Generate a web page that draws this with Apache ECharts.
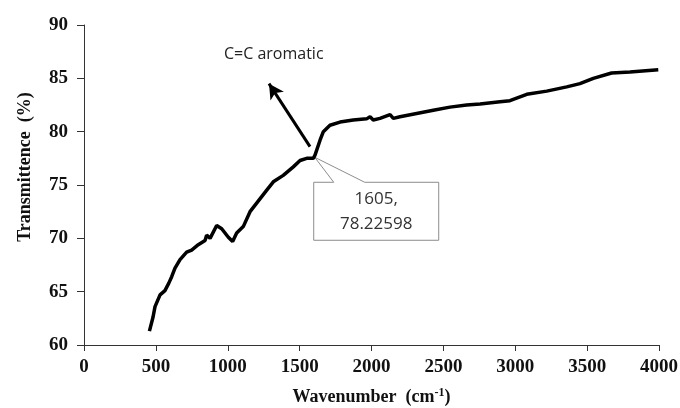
<!DOCTYPE html>
<html>
<head>
<meta charset="utf-8">
<script src="https://cdn.jsdelivr.net/npm/echarts@6/dist/echarts.min.js"></script>
<style>
html,body{margin:0;padding:0;background:#fff;}
#main{width:680px;height:408px;}
</style>
</head>
<body>
<div id="main"></div>
<script>
// FTIR spectrum
var wavenumber = [455, 480, 494, 529, 563, 590, 610, 633, 668, 714, 749, 795, 842, 853, 877, 923, 958, 1004, 1034, 1062,
    1108, 1155, 1201, 1270, 1317, 1386, 1456, 1503, 1549, 1595, 1607, 1642, 1665, 1711, 1781, 1873, 1966, 1990, 2012, 2059,
    2129, 2152, 2198, 2314, 2430, 2546, 2662, 2755, 2894, 2963, 3080, 3219, 3358, 3450, 3543, 3670, 3798, 3995];
var transmittance = [61.3, 62.6, 63.6, 64.7, 65.1, 65.8, 66.4, 67.2, 68.0, 68.7, 68.9, 69.4, 69.8, 70.3, 70.0, 71.2, 70.9, 70.1, 69.7, 70.5,
    71.1, 72.5, 73.3, 74.5, 75.3, 75.9, 76.7, 77.3, 77.5, 77.5, 77.8, 79.2, 80.0, 80.6, 80.9, 81.1, 81.2, 81.4, 81.1, 81.25,
    81.6, 81.25, 81.4, 81.7, 82.0, 82.3, 82.5, 82.6, 82.8, 82.9, 83.5, 83.8, 84.2, 84.5, 85.0, 85.5, 85.6, 85.8];
var xTicks = [0, 500, 1000, 1500, 2000, 2500, 3000, 3500, 4000];
var yTicks = [60, 65, 70, 75, 80, 85, 90];
var peakLabel = ['1605,', '78.22598'];
var peakPoint = [1605, 77.6];
var arrowFrom = [1572, 78.6];
var arrowTo = [1287, 84.5];
var arrowText = 'C=C aromatic';

var seriesData = [];
for (var i = 0; i < wavenumber.length; i++) {
    seriesData.push([wavenumber[i], transmittance[i]]);
}

var axisFont = {fontFamily: 'Liberation Serif', fontWeight: 'bold', fontSize: 19, color: '#111',
    formatter: function (v) { return String(v); }};

var myChart = echarts.init(document.getElementById('main'));
var option = {
    animation: false,
    grid: {left: 84, right: 21, top: 25, bottom: 63, containLabel: false, outerBoundsMode: 'none'},
    xAxis: {
        type: 'value',
        min: xTicks[0],
        max: xTicks[xTicks.length - 1],
        interval: 500,
        name: 'Wavenumber  (cm{sup|-1})',
        nameLocation: 'middle',
        nameGap: 42,
        nameTextStyle: {
            fontFamily: 'Liberation Serif', fontWeight: 'bold', fontSize: 18, color: '#111',
            rich: {sup: {fontFamily: 'Liberation Serif', fontWeight: 'bold', fontSize: 12, verticalAlign: 'top', padding: [0, 0, 8, 0]}}
        },
        axisLine: {lineStyle: {color: '#333', width: 1}},
        axisTick: {inside: false, length: 6, lineStyle: {color: '#333'}},
        axisLabel: Object.assign({margin: 13}, axisFont),
        splitLine: {show: false}
    },
    yAxis: {
        type: 'value',
        min: yTicks[0],
        max: yTicks[yTicks.length - 1],
        interval: 5,
        axisLine: {show: true, lineStyle: {color: '#333', width: 1}},
        axisTick: {show: true, inside: false, length: 7, lineStyle: {color: '#333'}},
        axisLabel: Object.assign({margin: 16}, axisFont),
        splitLine: {show: false}
    },
    series: [{
        type: 'line',
        data: seriesData,
        showSymbol: false,
        lineStyle: {color: '#000', width: 3.5},
        markLine: {
            silent: true,
            symbol: ['none', 'arrow'],
            symbolSize: [12, 15],
            label: {show: false},
            lineStyle: {color: '#000', width: 3, type: 'solid'},
            data: [[{coord: arrowFrom}, {coord: arrowTo}]]
        }
    }]
};
myChart.setOption(option);

// annotations placed from data coordinates
var p = myChart.convertToPixel({gridIndex: 0}, peakPoint);
var t = myChart.convertToPixel({gridIndex: 0}, [1320, 87.2]);
var boxX = p[0] - 1, boxY = p[1] + 25, boxW = 125, boxH = 58;
myChart.setOption({
    graphic: [
        {
            type: 'text',
            x: t[0],
            y: t[1],
            style: {text: arrowText, align: 'center', verticalAlign: 'middle',
                fontFamily: 'Open Sans', fontSize: 16, fill: '#222'}
        },
        {
            type: 'polygon',
            shape: {points: [[boxX, boxY], [boxX + 20, boxY], [p[0], p[1]], [boxX + 51, boxY], [boxX + boxW, boxY],
                [boxX + boxW, boxY + boxH], [boxX, boxY + boxH]]},
            style: {fill: '#fff', stroke: '#8c8c8c', lineWidth: 1}
        },
        {
            type: 'text',
            x: boxX + boxW / 2,
            y: boxY + boxH / 2,
            style: {
                text: peakLabel.join('\n'), align: 'center', verticalAlign: 'middle',
                fontFamily: 'Open Sans', fontSize: 17, lineHeight: 25, fill: '#333'
            }
        },
        {
            type: 'text',
            x: 25,
            y: 167,
            rotation: Math.PI / 2,
            style: {
                text: 'Transmittence  (%)', align: 'center', verticalAlign: 'middle',
                fontFamily: 'Liberation Serif', fontWeight: 'bold', fontSize: 18, fill: '#111'
            }
        }
    ]
});
</script>
</body>
</html>
